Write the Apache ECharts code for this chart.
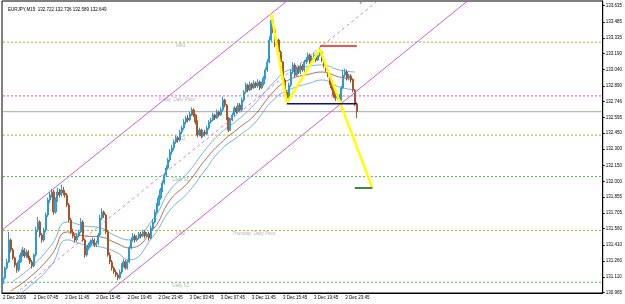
<!DOCTYPE html>
<html><head><meta charset="utf-8">
<script src="https://cdn.jsdelivr.net/npm/echarts@6/dist/echarts.min.js"></script>
<style>html,body{margin:0;padding:0;background:#fff}#c{width:625px;height:304px}</style>
</head><body><div id="c"></div>
<script>
// [open, close, low, high] per M15 bar
const ohlc = [
[131.050,131.103,131.03,131.13],[131.103,131.195,131.09,131.21],[131.195,131.251,131.18,131.28],[131.251,131.455,131.24,131.53],
[131.455,131.363,131.34,131.47],[131.363,131.288,131.27,131.38],[131.288,131.223,131.20,131.30],[131.223,131.177,131.15,131.24],
[131.177,131.251,131.16,131.27],[131.251,131.316,131.24,131.34],[131.316,131.363,131.30,131.39],[131.363,131.307,131.29,131.38],
[131.307,131.344,131.29,131.37],[131.344,131.288,131.27,131.36],[131.288,131.251,131.23,131.31],[131.251,131.214,131.19,131.27],
[131.214,131.316,131.20,131.33],[131.316,131.548,131.30,131.58],[131.548,131.623,131.53,131.67],[131.623,131.502,131.48,131.64],
[131.502,131.455,131.43,131.52],[131.455,131.548,131.44,131.57],[131.548,131.688,131.53,131.71],[131.688,131.828,131.67,131.85],
[131.828,131.874,131.80,131.90],[131.874,131.902,131.85,131.93],[131.902,131.716,131.69,131.92],[131.716,131.828,131.70,131.85],
[131.828,131.902,131.81,131.94],[131.902,131.874,131.85,131.93],[131.874,131.921,131.86,131.97],[131.921,131.893,131.87,131.95],
[131.893,131.874,131.85,131.92],[131.874,131.781,131.76,131.89],[131.781,131.642,131.62,131.80],[131.642,131.530,131.51,131.66],
[131.530,131.493,131.47,131.56],[131.493,131.455,131.43,131.51],[131.455,131.493,131.44,131.52],[131.493,131.530,131.48,131.55],
[131.530,131.623,131.52,131.66],[131.623,131.455,131.44,131.64],[131.455,131.316,131.29,131.47],[131.316,131.381,131.30,131.40],
[131.381,131.409,131.36,131.43],[131.409,131.437,131.39,131.46],[131.437,131.455,131.42,131.48],[131.455,131.409,131.39,131.47],
[131.409,131.428,131.39,131.45],[131.428,131.502,131.41,131.52],[131.502,131.660,131.49,131.69],[131.660,131.716,131.64,131.75],
[131.716,131.688,131.66,131.73],[131.688,131.530,131.51,131.70],[131.530,131.316,131.30,131.55],[131.316,131.251,131.23,131.34],
[131.251,131.195,131.17,131.27],[131.195,131.158,131.14,131.21],[131.158,131.130,131.11,131.18],[131.130,131.103,131.08,131.15],
[131.103,131.158,131.09,131.18],[131.158,131.223,131.14,131.24],[131.223,131.251,131.20,131.28],[131.251,131.195,131.18,131.27],
[131.195,131.251,131.18,131.27],[131.251,131.381,131.24,131.40],[131.381,131.455,131.37,131.48],[131.455,131.493,131.44,131.52],
[131.493,131.455,131.43,131.51],[131.455,131.474,131.44,131.50],[131.474,131.511,131.46,131.53],[131.511,131.493,131.47,131.53],
[131.493,131.530,131.48,131.55],[131.530,131.493,131.47,131.55],[131.493,131.511,131.48,131.53],[131.511,131.474,131.45,131.53],
[131.474,131.567,131.46,131.59],[131.567,131.623,131.55,131.65],[131.623,131.716,131.61,131.74],[131.716,131.781,131.70,131.80],
[131.781,131.846,131.77,131.87],[131.846,131.921,131.83,131.94],[131.921,131.986,131.90,132.01],[131.986,132.060,131.97,132.08],
[132.060,132.125,132.04,132.15],[132.125,132.200,132.11,132.22],[132.200,132.274,132.18,132.30],[132.274,132.312,132.25,132.34],
[132.312,132.367,132.29,132.39],[132.367,132.405,132.35,132.43],[132.405,132.386,132.36,132.42],[132.386,132.460,132.37,132.48],
[132.460,132.497,132.44,132.52],[132.497,132.553,132.48,132.58],[132.553,132.590,132.53,132.61],[132.590,132.572,132.55,132.62],
[132.572,132.628,132.56,132.65],[132.628,132.665,132.61,132.69],[132.665,132.618,132.60,132.68],[132.618,132.553,132.53,132.63],
[132.553,132.432,132.41,132.57],[132.432,132.479,132.42,132.50],[132.479,132.423,132.40,132.49],[132.423,132.460,132.41,132.48],
[132.460,132.442,132.42,132.48],[132.442,132.497,132.43,132.52],[132.497,132.553,132.48,132.57],[132.553,132.572,132.54,132.59],
[132.572,132.618,132.56,132.64],[132.618,132.590,132.57,132.63],[132.590,132.646,132.58,132.67],[132.646,132.618,132.60,132.66],
[132.618,132.665,132.61,132.69],[132.665,132.758,132.65,132.79],[132.758,132.711,132.69,132.77],[132.711,132.590,132.57,132.72],
[132.590,132.479,132.46,132.60],[132.479,132.572,132.47,132.59],[132.572,132.618,132.56,132.64],[132.618,132.684,132.60,132.70],
[132.684,132.646,132.63,132.70],[132.646,132.711,132.63,132.73],[132.711,132.665,132.65,132.73],[132.665,132.758,132.65,132.78],
[132.758,132.832,132.74,132.85],[132.832,132.897,132.82,132.92],[132.897,132.851,132.83,132.91],[132.851,132.907,132.84,132.93],
[132.907,132.870,132.85,132.92],[132.870,132.916,132.86,132.94],[132.916,132.888,132.87,132.93],[132.888,132.925,132.87,132.95],
[132.925,132.870,132.85,132.94],[132.870,132.907,132.86,132.93],[132.907,132.962,132.89,132.98],[132.962,133.037,132.95,133.06],
[133.037,133.111,133.02,133.14],[133.111,133.316,133.10,133.35],[133.316,133.502,133.30,133.56],[133.502,133.409,133.38,133.52],
[133.409,133.269,133.25,133.43],[133.269,133.316,133.25,133.34],[133.316,133.204,133.18,133.33],[133.204,133.111,133.09,133.22],
[133.111,132.944,132.93,133.12],[132.944,132.832,132.81,132.96],[132.832,132.776,132.73,132.85],[132.776,132.897,132.76,132.92],
[132.897,133.018,132.88,133.04],[133.018,133.083,133.00,133.11],[133.083,132.990,132.97,133.10],[132.990,133.055,132.98,133.07],
[133.055,133.018,133.00,133.08],[133.018,133.074,133.00,133.10],[133.074,133.037,133.02,133.09],[133.037,133.111,133.02,133.13],
[133.111,133.130,133.09,133.16],[133.130,133.176,133.11,133.20],[133.176,133.111,133.09,133.19],[133.111,133.148,133.10,133.17],
[133.148,133.176,133.13,133.20],[133.176,133.130,133.11,133.19],[133.130,133.176,133.12,133.20],[133.176,133.204,133.16,133.24],
[133.204,133.130,133.11,133.22],[133.130,133.083,133.06,133.15],[133.083,133.037,133.02,133.10],[133.037,132.990,132.97,133.05],
[132.990,132.925,132.90,133.00],[132.925,132.870,132.85,132.94],[132.870,132.804,132.78,132.89],[132.804,132.776,132.75,132.82],
[132.776,132.795,132.76,132.81],[132.795,132.758,132.73,132.81],[132.758,132.870,132.75,132.89],[132.870,132.990,132.86,133.04],
[132.990,133.018,132.97,133.05],[133.018,132.962,132.94,133.04],[132.962,132.981,132.94,133.00],[132.981,132.944,132.92,133.00],
[132.944,132.851,132.83,132.96],[132.851,132.722,132.70,132.86],[132.722,132.649,132.589,132.736]
];
const xTickLabels = ['2 Dec 2009','2 Dec 07:45','2 Dec 11:45','2 Dec 15:45','2 Dec 19:45','2 Dec 23:45',
  '3 Dec 03:45','3 Dec 07:45','3 Dec 11:45','3 Dec 15:45','3 Dec 19:45','3 Dec 23:45'];
const yTickValues = [133.635,133.485,133.335,133.190,133.040,132.890,132.746,132.595,132.450,132.300,
  132.150,132.000,131.855,131.705,131.560,131.410,131.260,131.110,130.965];

const maIdx   = [4,14,25,33,42,50,58,65,77,86,95,104,112,122,129,139,147,158,164,173,181];
const maUpper = [131.056,131.196,131.410,131.623,131.586,131.568,131.493,131.456,131.642,131.921,132.079,132.293,132.451,132.591,132.712,132.916,133.037,133.074,133.084,133.037,133.018];
const maMid   = [130.982,131.112,131.317,131.530,131.493,131.484,131.428,131.382,131.549,131.828,131.986,132.200,132.358,132.507,132.609,132.832,132.944,133.000,133.018,132.972,132.944];
const maLower = [130.898,131.028,131.224,131.456,131.410,131.391,131.344,131.270,131.484,131.735,131.893,132.107,132.293,132.433,132.535,132.758,132.851,132.916,132.944,132.879,132.851];

const channelUpper = [[0,131.554],[160,133.882]];
const channelLower = [[50,130.904],[250,133.842]];
const channelMid   = [[4,130.920],[200,133.787]];
const zigzag   = [[138,133.56],[146,132.73],[163,133.23],[190,131.94]];
const redLine  = [[163,133.26],[182,133.26]];
const navyLine = [[146,132.722],[182,132.722]];
const greenLine= [[181,131.94],[190,131.94]];

const levelValues = [133.296,132.796,132.649,132.431,132.045,131.544,131.062];
const levelKinds  = ['olive','magenta','price','olive','green','olive','green'];
const textLabels = ['MR1','Friday  Daily Pivot','MS1','Daily S1','MS2','Thursday  Daily Pivot','Daily S2'];
const textIdx    = [89,80,89,87,89,118,87];
const textPrice  = [133.296,132.796,132.431,132.045,131.544,131.544,131.062];

const N = 309;
const FONT = 'Liberation Sans';
const kindStyle = {
  olive:  {line:'#b0b020', type:[2,2], box:'#9d9d2e', txt:'#ffffff'},
  magenta:{line:'#d848d8', type:[2,2], box:'#e040e0', txt:'#ffffff'},
  price:  {line:'#a8a8a8', type:'solid', box:'#000000', txt:'#ffffff'},
  green:  {line:'#44c044', type:[2,2], box:'#3ccc3c', txt:'#ffffff'}
};
const chart = echarts.init(document.getElementById('c'), null, {renderer:'canvas'});
const lineS = (data, color, width, type, z, smooth) => ({type:'line', data, symbol:'none', smooth:!!smooth,
  lineStyle:{color, width, type}, itemStyle:{color}, z, silent:true, animation:false});
// level lines drawn as ordinary line series across the full x range
const levelLines = levelValues.map((v,k)=>{
  const s = kindStyle[levelKinds[k]];
  return lineS([[0,v],[N-1,v]], s.line, 1, s.type, 1);
});
// right-hand value boxes (markLine used only for its end label)
const levelBoxes = levelValues.map((v,k)=>{
  const s = kindStyle[levelKinds[k]];
  return {type:'line', data:[], z:7, silent:true, animation:false,
    markLine:{symbol:['none','none'], silent:true, animation:false,
      lineStyle:{opacity:0, width:0},
      label:{show:true, position:'end', distance:2, formatter:v.toFixed(3), color:s.txt,
        backgroundColor:s.box, fontSize:4.5, fontFamily:FONT, padding:[1,1,0,1]},
      data:[{yAxis:v}]}};
});
chart.setOption({
  animation:false,
  backgroundColor:'#ffffff',
  title:{text:'EURJPY,M15  132.722 132.736 132.589 132.649', left:3, top:2,
    textStyle:{fontSize:4.5, fontWeight:'normal', color:'#000', fontFamily:FONT}},
  grid:{left:1, right:20, top:1, bottom:11, show:true, borderColor:'#000', borderWidth:1, backgroundColor:'#fff'},
  xAxis:{type:'category', data:Array.from({length:N},(_,i)=>String(i)), boundaryGap:true,
    axisLine:{lineStyle:{color:'#000'}},
    axisTick:{alignWithLabel:true, length:2, interval:(i)=>i%16===0 && i<=176, lineStyle:{color:'#000'}},
    axisLabel:{interval:(i)=>i%16===0 && i<=176, formatter:(v,i)=>xTickLabels[i/16]||'', align:'left',
      fontSize:4.5, color:'#000', margin:2, fontFamily:FONT},
    splitLine:{show:false}},
  yAxis:{type:'value', position:'right', min:130.962, max:133.679, scale:true,
    axisLine:{show:true, lineStyle:{color:'#000'}},
    axisTick:{show:true, length:2, customValues:yTickValues, lineStyle:{color:'#000'}},
    axisLabel:{customValues:yTickValues, formatter:(v)=>v.toFixed(3), fontSize:4.5, color:'#000', margin:3, fontFamily:FONT},
    splitLine:{show:false}},
  series:[
    ...levelLines,
    ...levelBoxes,
    {type:'scatter', data:textLabels.map((t,k)=>[textIdx[k], textPrice[k]]), symbolSize:0, silent:true, z:2,
      label:{show:true, position:'bottom', distance:1, align:'left', color:'#a0a0a0', fontSize:4.5, fontFamily:FONT,
        formatter:(p)=>textLabels[p.dataIndex]}},
    lineS(maIdx.map((x,k)=>[x,maUpper[k]]), '#5a9fcb', 0.8, 'solid', 3, true),
    lineS(maIdx.map((x,k)=>[x,maMid[k]]), '#a04a28', 0.8, 'solid', 3, true),
    lineS(maIdx.map((x,k)=>[x,maLower[k]]), '#5a9fcb', 0.8, 'solid', 3, true),
    {type:'candlestick', data:ohlc, barWidth:1.6, z:4, silent:true,
      itemStyle:{color:'#3aa6da', color0:'#b9602f', borderColor:'#2f9ad0', borderColor0:'#a8542a', borderWidth:1}},
    lineS(channelUpper, '#c55fd5', 1, 'solid', 5),
    lineS(channelLower, '#c55fd5', 1, 'solid', 5),
    lineS(channelMid, '#c55fd5', 0.8, [3,3], 5),
    lineS(zigzag, '#ffff00', 2.5, 'solid', 6),
    lineS(redLine, '#e02020', 1.5, 'solid', 6),
    lineS(navyLine, '#101080', 1.5, 'solid', 6),
    lineS(greenLine, '#006400', 1.5, 'solid', 6),
    {type:'scatter', data:[[184,133.665]], symbol:'triangle', symbolRotate:180, symbolSize:4, itemStyle:{color:'#888'}, z:6, silent:true}
  ]
});
</script></body></html>
